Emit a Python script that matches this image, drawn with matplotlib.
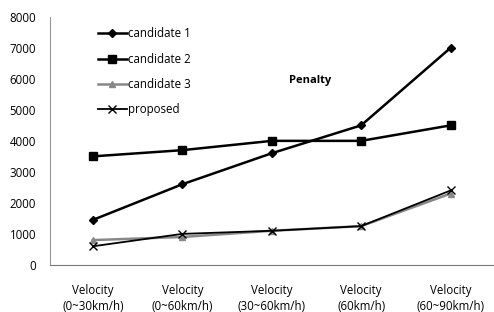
import matplotlib
matplotlib.use("Agg")
import matplotlib.pyplot as plt

categories = ["Velocity\n(0~30km/h)", "Velocity\n(0~60km/h)", "Velocity\n(30~60km/h)",
              "Velocity\n(60km/h)", "Velocity\n(60~90km/h)"]
candidate1 = [1450, 2600, 3600, 4500, 7000]
candidate2 = [3500, 3700, 4000, 4000, 4500]
candidate3 = [800, 900, 1100, 1250, 2300]
proposed = [600, 1000, 1100, 1250, 2400]
yticks = [0, 1000, 2000, 3000, 4000, 5000, 6000, 7000, 8000]

plt.rcParams['font.family'] = ['Open Sans', 'DejaVu Sans']
fig = plt.figure(figsize=(4.94, 3.12), dpi=100)
ax = fig.add_axes([0.101, 0.151, 0.898, 0.795])
x = list(range(len(categories)))

ax.plot(x, candidate1, color='black', lw=1.8, marker='D', ms=4, label='candidate 1')
ax.plot(x, candidate2, color='black', lw=1.8, marker='s', ms=6, label='candidate 2')
ax.plot(x, candidate3, color='#888888', lw=1.8, marker='^', ms=5, label='candidate 3')
ax.plot(x, proposed, color='black', lw=1.3, marker='x', ms=6, label='proposed')

ax.set_xlim(-0.48, 4.48)
ax.set_ylim(0, 8000)
ax.set_yticks(yticks)
ax.set_yticklabels([str(v) for v in yticks], fontsize=8.3)
ax.set_xticks(x)
ax.set_xticklabels(categories, fontsize=8.3, linespacing=1.3)
ax.tick_params(axis='y', length=0, pad=10)
ax.tick_params(axis='x', length=0, pad=14)
for s in ['top', 'right']:
    ax.spines[s].set_visible(False)
ax.spines['left'].set_color('#999999')
ax.spines['bottom'].set_color('#777777')

ax.legend(loc='upper left', bbox_to_anchor=(0.085, 1.0), frameon=False, fontsize=8.3,
          handlelength=2.5, handletextpad=0.1, labelspacing=1.07)
ax.text(0.54, 0.745, "Penalty", transform=ax.transAxes, fontsize=8, fontweight='bold',
        va='center')

fig.savefig("out.png", dpi=100)
